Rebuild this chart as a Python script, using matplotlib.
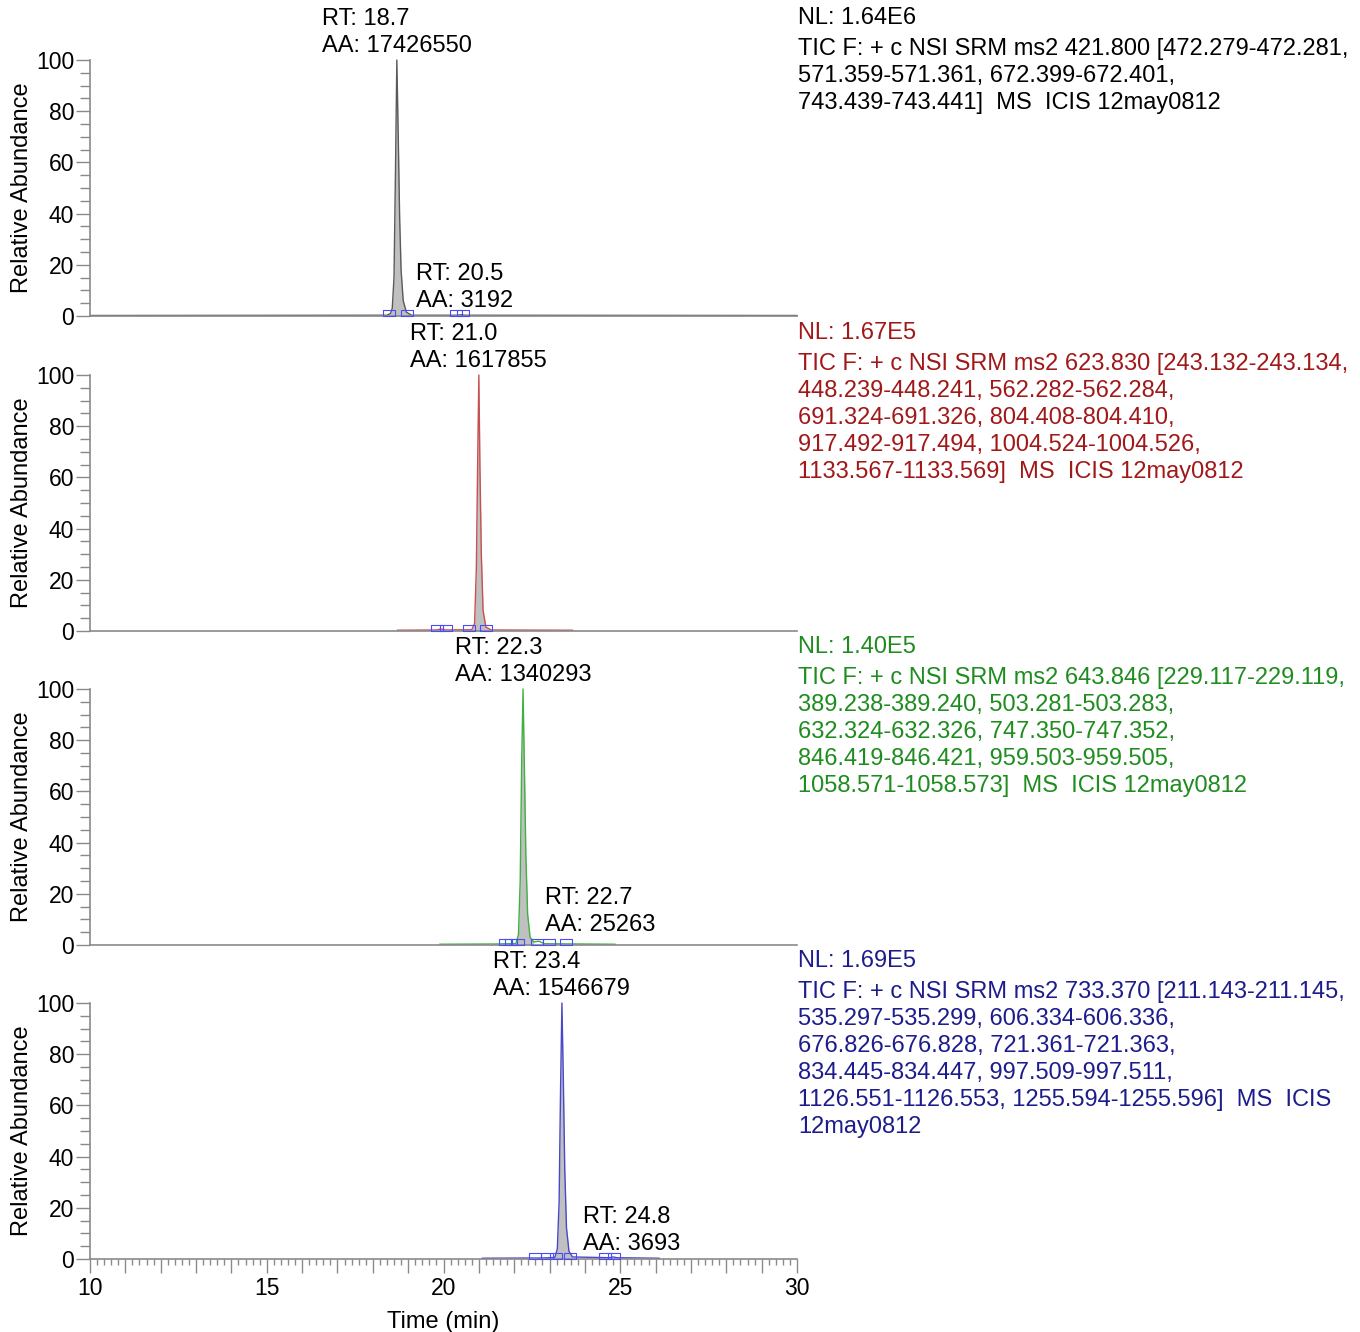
"""SRM chromatograms for four transitions, stacked, with peak labels."""

import matplotlib

matplotlib.use("Agg")

import matplotlib.pyplot as plt  # noqa: E402
import numpy as np  # noqa: E402
from matplotlib.ticker import FuncFormatter, MultipleLocator  # noqa: E402

plt.rcParams["font.family"] = ["Liberation Sans", "DejaVu Sans"]

# ---- data -------------------------------------------------------------
time_a = [10.00, 18.40, 18.50, 18.55, 18.60, 18.64, 18.68, 18.72, 18.76,
          18.80, 18.86, 18.95, 19.10, 20.40, 20.50, 20.60, 30.00]
abund_a = [0.2, 0.3, 1.0, 3.0, 15.0, 55.0, 100.0, 70.0, 38.0,
           18.0, 6.0, 1.5, 0.3, 0.3, 0.5, 0.3, 0.2]

time_b = [18.70, 19.80, 19.93, 20.05, 20.80, 20.88, 20.93, 20.97, 21.00,
          21.03, 21.07, 21.12, 21.20, 21.35, 23.65]
abund_b = [0.3, 0.4, 0.8, 0.4, 0.5, 3.0, 25.0, 70.0, 100.0,
           65.0, 30.0, 8.0, 1.5, 0.4, 0.3]

time_c = [19.90, 21.50, 22.05, 22.12, 22.17, 22.21, 22.25, 22.29, 22.33,
          22.38, 22.45, 22.55, 22.70, 22.85, 24.85]
abund_c = [0.3, 0.4, 0.6, 4.0, 25.0, 70.0, 100.0, 68.0, 35.0,
           12.0, 3.0, 1.2, 1.5, 0.5, 0.3]

time_d = [21.10, 22.80, 23.15, 23.22, 23.27, 23.31, 23.35, 23.39, 23.43,
          23.48, 23.55, 23.65, 24.70, 24.80, 24.90, 26.10]
abund_d = [0.3, 0.4, 0.6, 4.0, 22.0, 65.0, 100.0, 70.0, 35.0,
           12.0, 3.0, 0.8, 0.5, 0.8, 0.5, 0.3]

# integration boundary markers (min)
bounds_a = [18.46, 18.97, 20.35, 20.55]
bounds_b = [19.82, 20.07, 20.72, 21.20]
bounds_c = [21.74, 21.91, 22.10, 22.65, 22.98, 23.46]
bounds_d = [22.59, 22.93, 23.18, 23.58, 24.57, 24.82]

# main peak integration window (min)
window_a = (18.46, 18.97)
window_b = (20.72, 21.20)
window_c = (22.05, 22.55)
window_d = (23.18, 23.62)

main_label_a = "RT: 18.7\nAA: 17426550"
main_label_b = "RT: 21.0\nAA: 1617855"
main_label_c = "RT: 22.3\nAA: 1340293"
main_label_d = "RT: 23.4\nAA: 1546679"

minor_label_a = "RT: 20.5\nAA: 3192"
minor_label_c = "RT: 22.7\nAA: 25263"
minor_label_d = "RT: 24.8\nAA: 3693"

nl_a = "NL: 1.64E6"
nl_b = "NL: 1.67E5"
nl_c = "NL: 1.40E5"
nl_d = "NL: 1.69E5"

filter_a = ("TIC F: + c NSI SRM ms2 421.800 [472.279-472.281,\n"
            "571.359-571.361, 672.399-672.401,\n"
            "743.439-743.441]  MS  ICIS 12may0812")
filter_b = ("TIC F: + c NSI SRM ms2 623.830 [243.132-243.134,\n"
            "448.239-448.241, 562.282-562.284,\n"
            "691.324-691.326, 804.408-804.410,\n"
            "917.492-917.494, 1004.524-1004.526,\n"
            "1133.567-1133.569]  MS  ICIS 12may0812")
filter_c = ("TIC F: + c NSI SRM ms2 643.846 [229.117-229.119,\n"
            "389.238-389.240, 503.281-503.283,\n"
            "632.324-632.326, 747.350-747.352,\n"
            "846.419-846.421, 959.503-959.505,\n"
            "1058.571-1058.573]  MS  ICIS 12may0812")
filter_d = ("TIC F: + c NSI SRM ms2 733.370 [211.143-211.145,\n"
            "535.297-535.299, 606.334-606.336,\n"
            "676.826-676.828, 721.361-721.363,\n"
            "834.445-834.447, 997.509-997.511,\n"
            "1126.551-1126.553, 1255.594-1255.596]  MS  ICIS\n"
            "12may0812")

# ---- styling ----------------------------------------------------------
W, H = 1360, 1332
AX_LEFT, AX_RIGHT = 90, 797
AX_TOPS = [60, 375, 689, 1003]
AX_H = 256
GREY = "#8a8a8a"
BOX_COLOR = "#4a4aff"
FILL = "#c0c0c0"
LS = 1.3

panels = [
    dict(t=time_a, y=abund_a, bounds=bounds_a, win=window_a, main=main_label_a,
         minor=minor_label_a, minor_x=19.22, minor_y=1.5, nl=nl_a, filt=filter_a,
         line="#5a5a5a", text="black"),
    dict(t=time_b, y=abund_b, bounds=bounds_b, win=window_b, main=main_label_b,
         minor=None, nl=nl_b, filt=filter_b, line="#c85050", text="#a01818"),
    dict(t=time_c, y=abund_c, bounds=bounds_c, win=window_c, main=main_label_c,
         minor=minor_label_c, minor_x=22.87, minor_y=3.5, nl=nl_c, filt=filter_c,
         line="#40b040", text="#1e8c1e"),
    dict(t=time_d, y=abund_d, bounds=bounds_d, win=window_d, main=main_label_d,
         minor=minor_label_d, minor_x=23.95, minor_y=1.5, nl=nl_d, filt=filter_d,
         line="#4848c8", text="#1c1c8c"),
]

box_marker = [(-1, -0.6), (-1, 0.6), (1, 0.6), (1, -0.6), (-1, -0.6)]

fig = plt.figure(figsize=(W / 100, H / 100), dpi=100)

for k, p in enumerate(panels):
    top = AX_TOPS[k]
    ax = fig.add_axes([AX_LEFT / W, 1 - (top + AX_H) / H,
                       (AX_RIGHT - AX_LEFT) / W, AX_H / H])
    t = np.asarray(p["t"])
    y = np.asarray(p["y"])
    lo, hi = p["win"]
    ax.fill_between(t, y, 0, where=(t >= lo) & (t <= hi), interpolate=True,
                    color=FILL, lw=0, zorder=1)
    ax.plot(t, y, color=p["line"], lw=1.0, zorder=2, clip_on=False)
    ax.plot(p["bounds"], [1.2] * len(p["bounds"]), ls="none", marker=box_marker,
            ms=8, mfc="none", mec=BOX_COLOR, mew=0.8, zorder=3, clip_on=False)

    ax.set_xlim(10, 30)
    ax.set_ylim(0, 100)
    for side in ("top", "right"):
        ax.spines[side].set_visible(False)
    for side in ("left", "bottom"):
        ax.spines[side].set_color(GREY)
        ax.spines[side].set_linewidth(1.2)

    ax.yaxis.set_major_locator(MultipleLocator(20))
    ax.yaxis.set_minor_locator(MultipleLocator(5))
    ax.tick_params(axis="y", which="major", length=10, width=1.0, color=GREY,
                   labelsize=16.5, pad=1.5)
    ax.tick_params(axis="y", which="minor", length=7, width=1.0, color=GREY)
    ax.set_ylabel("Relative Abundance", fontsize=17)
    ax.yaxis.set_label_coords(-0.08, 0.5)

    apex = t[int(np.argmax(y))]
    ax.text(apex, 101, p["main"], ha="center", va="bottom", ma="left",
            fontsize=17, linespacing=LS, clip_on=False)
    if p["minor"]:
        ax.text(p["minor_x"], p["minor_y"], p["minor"], ha="left", va="bottom",
                fontsize=17, linespacing=LS, clip_on=False, zorder=4)

    fig.text(798 / W, 1 - (top - 42) / H, p["nl"], ha="left", va="center",
             fontsize=17, color=p["text"])
    fig.text(798 / W, 1 - (top - 22) / H, p["filt"], ha="left", va="top",
             fontsize=17, color=p["text"], linespacing=LS)

    if k < 3:
        ax.tick_params(axis="x", which="both", bottom=False, labelbottom=False)
    else:
        ax.xaxis.set_major_locator(MultipleLocator(1))
        ax.xaxis.set_minor_locator(MultipleLocator(0.2))
        ax.xaxis.set_major_formatter(
            FuncFormatter(lambda v, _: f"{v:.0f}" if round(v) % 5 == 0 else ""))
        ax.tick_params(axis="x", which="major", length=8, width=1.0, color=GREY,
                       labelsize=16.5, pad=5)
        ax.tick_params(axis="x", which="minor", length=4.3, width=1.0, color=GREY)
        for tick in ax.xaxis.get_major_ticks():
            if round(tick.get_loc()) % 5 == 0:
                tick.tick1line.set_markersize(10)
        ax.set_xlabel("Time (min)", fontsize=17, labelpad=8)

fig.savefig("out.png", dpi=100)
